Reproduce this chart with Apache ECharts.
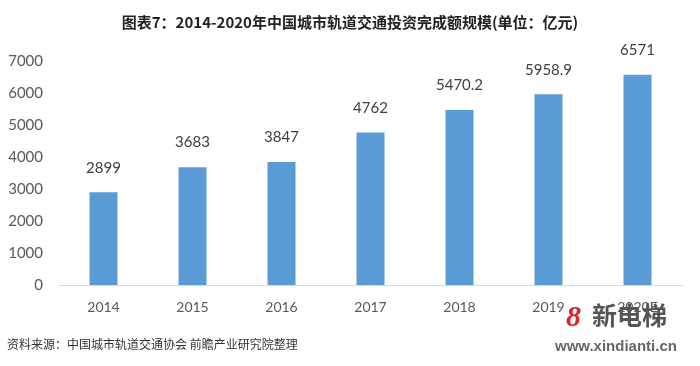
<!DOCTYPE html>
<html><head><meta charset="utf-8">
<script src="https://cdn.jsdelivr.net/npm/echarts@6/dist/echarts.min.js"></script>
<style>html,body{margin:0;padding:0;background:#fff}#c{width:700px;height:366px}</style>
</head><body><div id="c"></div>
<script>
const categories = ['2014','2015','2016','2017','2018','2019','2020E'];
const values = [2899, 3683, 3847, 4762, 5470.2, 5958.9, 6571];
const yTicks = {min:0, max:7000, interval:1000};
const titleText = '图表7：2014-2020年中国城市轨道交通投资完成额规模(单位：亿元)';
const sourceText = '资料来源：中国城市轨道交通协会 前瞻产业研究院整理';

const chart = echarts.init(document.getElementById('c'));
chart.setOption({
  animation:false,
  title:{text:titleText,left:'center',top:10,textStyle:{fontSize:15,fontWeight:'bold',color:'#222',fontFamily:'Noto Sans CJK SC'}},
  grid:{left:59,right:18,top:61,bottom:81},
  xAxis:{type:'category',data:categories,axisLine:{lineStyle:{color:'#d9d9d9',width:1}},axisTick:{show:false},
    axisLabel:{color:'#595959',fontSize:14,margin:15,fontFamily:'Lato'}},
  yAxis:{type:'value',min:yTicks.min,max:yTicks.max,interval:yTicks.interval,splitLine:{show:false},axisLine:{show:false},axisTick:{show:false},
    axisLabel:{color:'#595959',fontSize:15,margin:16,fontFamily:'Lato',formatter:v=>String(v)}},
  series:[{type:'bar',data:values,barWidth:28,itemStyle:{color:'#5B9BD5'},
    label:{show:true,position:'top',distance:17,color:'#404040',fontSize:15,fontFamily:'Lato'}}],
  graphic:[
    {type:'text',left:7,top:338,style:{text:sourceText,fontSize:12,fill:'#333',fontFamily:'Noto Sans CJK SC'}},
    {type:'text',left:566,top:303,style:{text:'8',fontSize:30,fontStyle:'italic',fontWeight:'bold',fill:'#d9262c',fontFamily:'Liberation Serif'}},
    {type:'text',left:591,top:302,style:{text:'新电梯',fontSize:25,fontWeight:'bold',fill:'#555',stroke:'#fff',lineWidth:2,fontFamily:'Noto Sans CJK SC'}},
    {type:'text',left:555,top:339,style:{text:'www.xindianti.cn',fontSize:15,fontWeight:'bold',fill:'#666',fontFamily:'Liberation Sans'}}
  ]
});
</script></body></html>
